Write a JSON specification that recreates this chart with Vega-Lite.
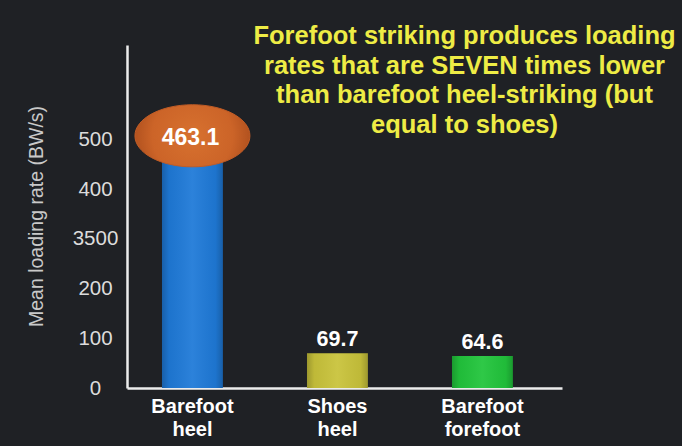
{
  "$schema": "https://vega.github.io/schema/vega-lite/v6.json",
  "autosize": "none",
  "width": 435,
  "height": 343,
  "padding": {"left": 127, "top": 45, "right": 120, "bottom": 58},
  "background": "#1f2125",
  "config": {"view": {"stroke": null}, "font": "Liberation Sans"},
  "title": {
    "text": ["Forefoot striking produces loading", "rates that are SEVEN times lower", "than barefoot heel-striking (but", "equal to shoes)"],
    "color": "#eeec45",
    "font": "Liberation Sans",
    "fontSize": 25.5,
    "fontWeight": "bold",
    "lineHeight": 29.5,
    "anchor": "middle",
    "baseline": "top",
    "frame": "group",
    "dx": 120,
    "dy": 97
  },
  "data": {
    "values": [
      {"category": "Barefoot heel", "value": 463.1},
      {"category": "Shoes heel", "value": 69.7},
      {"category": "Barefoot forefoot", "value": 64.6}
    ]
  },
  "encoding": {
    "x": {
      "field": "category",
      "type": "nominal",
      "sort": null,
      "scale": {"paddingInner": 0.58, "paddingOuter": 0.29, "align": 0.416},
      "axis": {
        "title": null,
        "labelAngle": 0,
        "labelExpr": "split(datum.label, ' ')",
        "labelColor": "#ffffff",
        "labelFont": "Liberation Sans",
        "labelFontSize": 20,
        "labelFontWeight": "bold",
        "labelLineHeight": 23,
        "labelPadding": 8,
        "labelBaseline": "top",
        "ticks": false,
        "domainColor": "#ececec",
        "domainWidth": 2.5
      }
    },
    "y": {
      "field": "value",
      "type": "quantitative",
      "scale": {"domain": [0, 690], "nice": false},
      "axis": {
        "title": "Mean loading rate (BW/s)",
        "titleColor": "#c9c9c9",
        "titleFont": "Liberation Sans",
        "titleFontSize": 19.5,
        "titleFontWeight": "normal",
        "titleX": -91,
        "titleY": 171,
        "titleAngle": -90,
        "titleAlign": "center",
        "titleBaseline": "middle",
        "values": [0, 100, 200, 300, 400, 500],
        "labelExpr": "datum.value == 300 ? '3500' : datum.label",
        "labelColor": "#dcdcdc",
        "labelFont": "Liberation Sans",
        "labelFontSize": 20.5,
        "labelAlign": "center",
        "labelBaseline": "middle",
        "labelPadding": 32,
        "ticks": false,
        "grid": false,
        "domainColor": "#ececec",
        "domainWidth": 2.5
      }
    }
  },
  "layer": [
    {
      "mark": {"type": "bar"},
      "encoding": {
        "color": {
          "field": "category",
          "type": "nominal",
          "sort": null,
          "legend": null,
          "scale": {"domain": ["Barefoot heel", "Shoes heel", "Barefoot forefoot"], "range": ["#1f7ad8", "#c9c33b", "#22c53c"]}
        }
      }
    },
    {
      "mark": {
        "type": "bar",
        "fill": {
          "gradient": "linear", "x1": 0, "y1": 0, "x2": 1, "y2": 0,
          "stops": [
            {"offset": 0, "color": "rgba(0,0,0,0.22)"},
            {"offset": 0.12, "color": "rgba(0,0,0,0.05)"},
            {"offset": 0.5, "color": "rgba(255,255,255,0.06)"},
            {"offset": 0.88, "color": "rgba(0,0,0,0.05)"},
            {"offset": 1, "color": "rgba(0,0,0,0.22)"}
          ]
        }
      },
      "encoding": {}
    },
    {
      "transform": [{"filter": "datum.value < 100"}],
      "mark": {"type": "text", "color": "#ffffff", "fontSize": 21.5, "fontWeight": "bold", "baseline": "alphabetic", "dy": -7},
      "encoding": {"text": {"field": "value", "type": "quantitative", "format": ".1f"}}
    },
    {
      "transform": [{"filter": "datum.value > 100"}],
      "mark": {
        "type": "point",
        "filled": true,
        "shape": "M -1 0 A 1 0.54 0 1 0 1 0 A 1 0.54 0 1 0 -1 0 Z",
        "size": 13225,
        "yOffset": -22,
        "opacity": 1,
        "fill": {
          "gradient": "radial",
          "stops": [
            {"offset": 0, "color": "#d7712f"},
            {"offset": 0.7, "color": "#cc6428"},
            {"offset": 1, "color": "#b2521f"}
          ]
        },
        "stroke": "#c25c25",
        "strokeWidth": 1
      },
      "encoding": {}
    },
    {
      "transform": [{"filter": "datum.value > 100"}],
      "mark": {"type": "text", "color": "#ffffff", "fontSize": 23, "fontWeight": "bold", "baseline": "middle", "yOffset": -20, "dx": -2},
      "encoding": {"text": {"field": "value", "type": "quantitative", "format": ".1f"}}
    }
  ]
}
